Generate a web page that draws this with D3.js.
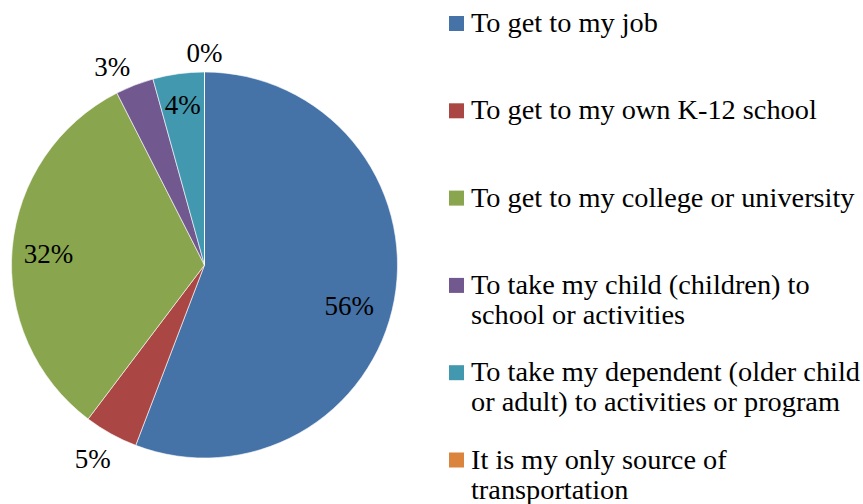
<!DOCTYPE html>
<html><head><meta charset="utf-8">
<script src="https://cdn.jsdelivr.net/npm/d3@7"></script>
<style>html,body{margin:0;padding:0;background:#fff;}svg{display:block;}</style>
</head><body>
<script>
const categories = [
  "To get to my job",
  "To get to my own K-12 school",
  "To get to my college or university",
  "To take my child (children) to|school or activities",
  "To take my dependent (older child|or adult) to activities or program",
  "It is my only source of|transportation"
];
const values = [55.8, 4.5, 32.2, 3.2, 4.3, 0];
const colors = ["#4572A7", "#AA4643", "#89A54E", "#71588F", "#4198AF", "#DB843D"];
// label placement (radius factor, angle offset in degrees)
const labelRadius = [0.78, 1.16, 0.81, 1.135, 0.84, 1.10];
const labelAngle = [5.4, 1, -1, -3.7, 0, 0];

const W = 863, H = 504;
const cx = 204.5, cy = 265, R = 193;
const font = "'Liberation Serif', 'DejaVu Serif', serif";

const svg = d3.select("body").append("svg").attr("width", W).attr("height", H);

const pie = d3.pie().sort(null).value(d => d);
const arcs = pie(values);
const arc = d3.arc().innerRadius(0).outerRadius(R);

const g = svg.append("g").attr("transform", `translate(${cx},${cy})`);
g.selectAll("path").data(arcs).join("path")
  .attr("d", arc)
  .attr("fill", (d, i) => colors[i])
  .attr("stroke", "#ffffff")
  .attr("stroke-width", 0.6);

g.selectAll("text.lbl").data(arcs).join("text")
  .attr("class", "lbl")
  .attr("transform", (d, i) => {
    const a = (d.startAngle + d.endAngle) / 2 + labelAngle[i] * Math.PI / 180;
    const r = R * labelRadius[i];
    return `translate(${r * Math.sin(a)},${-r * Math.cos(a)})`;
  })
  .attr("text-anchor", "middle")
  .attr("dy", "0.34em")
  .style("font-family", font)
  .style("font-size", "27px")
  .attr("fill", "#000")
  .text(d => Math.round(d.value) + "%");

// legend
const leg = svg.append("g");
const y0 = 16, step = 87.3;
const items = leg.selectAll("g").data(categories).join("g")
  .attr("transform", (d, i) => `translate(449,${y0 + i * step})`);
items.append("rect").attr("width", 15).attr("height", 15)
  .attr("fill", (d, i) => colors[i]);
const tx = items.append("text")
  .attr("x", 22).attr("y", 16)
  .style("font-family", font)
  .style("font-size", "28px")
  .attr("fill", "#000");
tx.selectAll("tspan").data(d => d.split("|")).join("tspan")
  .attr("x", 22)
  .attr("dy", (d, j) => j === 0 ? 0 : 30)
  .text(d => d);

// fit legend font so the widest line spans as in the reference
let maxW = 0;
tx.selectAll("tspan").each(function(){ maxW = Math.max(maxW, this.getComputedTextLength()); });
const fs = 28 * 389 / maxW;
tx.style("font-size", fs + "px");
</script>
</body></html>
